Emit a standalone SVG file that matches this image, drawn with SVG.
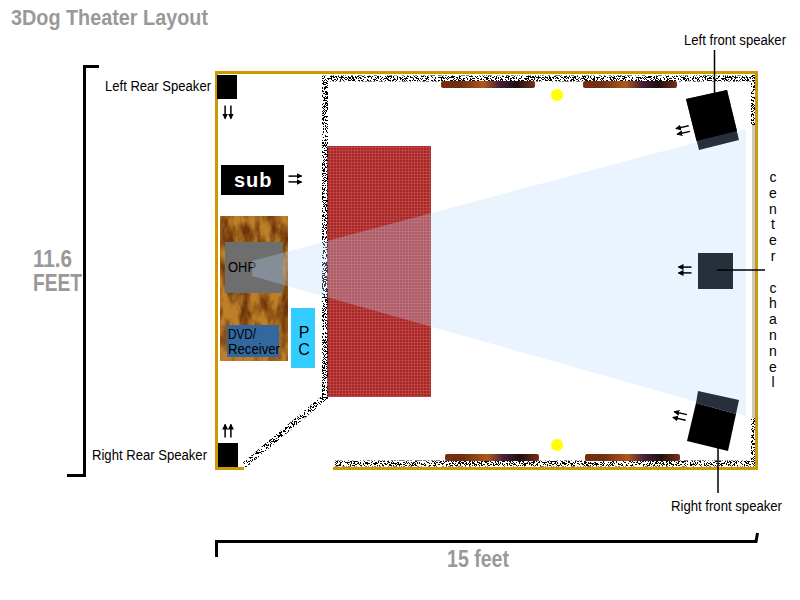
<svg xmlns="http://www.w3.org/2000/svg" width="800" height="600" viewBox="0 0 800 600">
<style>
text{font-family:"Liberation Sans",Arial,sans-serif;fill:#000}
.lbl{font-size:14px}
.big{font-weight:bold;fill:#999}
.wall{fill:none;stroke:#000;stroke-width:6}
.gold{fill:none;stroke:#cc9900;stroke-width:3}
.lead{stroke:#000;stroke-width:1.5;fill:none}
.brk{stroke:#000;stroke-width:3;fill:none}
.dark{fill:#25303a}
.blk{fill:#000}
.dot{fill:#ffff00}
.panel{fill:url(#panelGrad)}
.arr{stroke:#000;stroke-width:1.500;fill:none;marker-end:url(#head)}
</style>
<defs>
<filter id="speckle" x="-5%" y="-5%" width="110%" height="110%" color-interpolation-filters="sRGB">
<feTurbulence type="fractalNoise" baseFrequency="1.3" numOctaves="1" seed="7"/>
<feColorMatrix type="matrix" values="0 0 0 0 0 0 0 0 0 0 0 0 0 0 0 6 0 0 0 -2.680"/>
<feComponentTransfer><feFuncA type="discrete" tableValues="0 1"/></feComponentTransfer>
<feComposite in2="SourceGraphic" operator="in"/>
</filter>
<filter id="woodFx" x="0" y="0" width="100%" height="100%" color-interpolation-filters="sRGB">
<feTurbulence type="fractalNoise" baseFrequency="0.1 0.04" numOctaves="4" seed="11"/>
<feColorMatrix type="matrix" values="0 0 0 0 0.42 0 0 0 0 0.20 0 0 0 0 0.04 2.400 0 0 0 -0.850"/>
<feComposite in2="SourceGraphic" operator="in" result="g"/>
<feMerge><feMergeNode in="SourceGraphic"/><feMergeNode in="g"/></feMerge>
</filter>
<pattern id="redGrid" width="3" height="3" patternUnits="userSpaceOnUse">
<rect width="3" height="3" fill="#ab2424"/>
<path d="M0 .5H3M.5 0V3" stroke="#b94444" stroke-width="1"/>
</pattern>
<linearGradient id="panelGrad">
<stop offset="0" stop-color="#7a2c10"/>
<stop offset=".2" stop-color="#6e3010"/>
<stop offset=".45" stop-color="#b0581a"/>
<stop offset=".62" stop-color="#46203a"/>
<stop offset=".8" stop-color="#1e1010"/>
<stop offset="1" stop-color="#7a3018"/>
</linearGradient>
<marker id="head" viewBox="0 0 6 6" refX="5" refY="3" markerWidth="6" markerHeight="6" markerUnits="userSpaceOnUse" orient="auto">
<path d="M0 0L6 3L0 6Z" fill="#000"/>
</marker>
<g id="pair">
<path class="arr" d="M-6.500 -2.900H6.500"/>
<path class="arr" d="M-6.500 2.900H6.500"/>
</g>
</defs>
<rect width="800" height="600" fill="#fff"/>

<text id="title" class="big" x="11" y="25" font-size="22" textLength="197" lengthAdjust="spacingAndGlyphs">3Dog Theater Layout</text>

<g id="screen"><rect x="327" y="146" width="104" height="251" fill="url(#redGrid)"/></g>
<g id="rack">
<rect x="220" y="216" width="68" height="145" fill="#bd8028" filter="url(#woodFx)"/>
</g>
<g id="ohp">
<rect x="225" y="242" width="58" height="51" fill="#6e6e6e"/>
<text class="lbl" x="228" y="272" textLength="28" lengthAdjust="spacingAndGlyphs">OHP</text>
</g>
<g id="receiver">
<rect x="227" y="325" width="52" height="32" fill="#33689f"/>
<text class="lbl" x="228" y="339" textLength="28" lengthAdjust="spacingAndGlyphs">DVD/</text>
<text class="lbl" x="228" y="354" textLength="52" lengthAdjust="spacingAndGlyphs">Receiver</text>
</g>
<g id="pc">
<rect x="291" y="308" width="24" height="60" fill="#33ccff"/>
<text x="304" y="338" font-size="16" text-anchor="middle">P</text>
<text x="304" y="355" font-size="16" text-anchor="middle">C</text>
</g>
<g id="sub">
<rect x="221" y="165" width="63" height="30" class="blk"/>
<text x="234" y="187" font-size="20" font-weight="bold" style="fill:#fff;letter-spacing:1px">sub</text>
<use href="#pair" transform="translate(295 179)"/>
</g>

<g id="walls">
<rect x="752" y="125" width="3" height="293" fill="#c8c8c8"/>
<g filter="url(#speckle)">
<path class="wall" d="M755 78.500H325V397L244 465.500M335 463.500H755M754 75V125M754 418V466"/>
</g>
<path class="gold" d="M244 468.500H216.500V72.500H756.500V468.500H333"/>
</g>

<g id="cone"><path d="M252 261L746 129V416L252 276Z" fill="#b8daff" fill-opacity=".3"/></g>

<g id="panels">
<rect class="panel" x="441" y="81" width="94" height="7" rx="2"/>
<rect class="panel" x="583" y="81" width="94" height="7" rx="2"/>
<rect class="panel" x="445" y="454" width="94" height="7" rx="2"/>
<rect class="panel" x="585" y="454" width="95" height="7" rx="2"/>
<circle class="dot" cx="557" cy="95" r="6"/>
<circle class="dot" cx="557" cy="445" r="6"/>
</g>

<g id="left-rear-speaker">
<rect x="217" y="75" width="20" height="24" class="blk"/>
<use href="#pair" transform="translate(228 112) rotate(90)"/>
<text class="lbl" x="105" y="91" textLength="106" lengthAdjust="spacingAndGlyphs">Left Rear Speaker</text>
</g>
<g id="right-rear-speaker">
<rect x="218" y="443" width="20" height="24" class="blk"/>
<use href="#pair" transform="translate(228 431) rotate(-90)"/>
<text class="lbl" x="92" y="460" textLength="115" lengthAdjust="spacingAndGlyphs">Right Rear Speaker</text>
</g>
<g id="left-front-speaker">
<path class="dark" d="M686 99L727 90L739 140L699 150Z"/>
<path class="blk" d="M686 99L727 90L737 131L696.500 141Z"/>
<use href="#pair" transform="translate(683 130) rotate(167)"/>
<text class="lbl" x="684" y="45" textLength="102" lengthAdjust="spacingAndGlyphs">Left front speaker</text>
</g>
<g id="center-speaker">
<rect class="dark" x="698" y="253" width="35" height="36"/>
<use href="#pair" transform="translate(685 270) rotate(180)"/>
<text x="773" y="182" font-size="14" text-anchor="middle"><tspan x="773">c</tspan><tspan x="773" dy="15.800">e</tspan><tspan x="773" dy="15.800">n</tspan><tspan x="773" dy="15.800">t</tspan><tspan x="773" dy="15.800">e</tspan><tspan x="773" dy="15.800">r</tspan><tspan x="773" dy="31.600">c</tspan><tspan x="773" dy="15.800">h</tspan><tspan x="773" dy="15.800">a</tspan><tspan x="773" dy="15.800">n</tspan><tspan x="773" dy="15.800">n</tspan><tspan x="773" dy="15.800">e</tspan><tspan x="773" dy="15.800">l</tspan></text>
</g>
<g id="right-front-speaker">
<path class="dark" d="M698 391L739 400L736 414L696 403Z"/>
<path class="blk" d="M696 403L736 414L728 451L687 441Z"/>
<use href="#pair" transform="translate(680 416) rotate(193)"/>
<text class="lbl" x="671" y="511" textLength="111" lengthAdjust="spacingAndGlyphs">Right front speaker</text>
</g>

<g id="connectors">
<path class="lead" d="M714.500 50V93M718 448V493M717 270H765"/>
</g>

<g id="dimensions">
<path class="brk" d="M99 66.500H84.500V475.500H67"/>
<path class="brk" d="M216.500 557V541.500H756L757.500 533"/>
<text class="big" x="33" y="267" font-size="24" textLength="39" lengthAdjust="spacingAndGlyphs">11.6</text>
<text class="big" x="33" y="291" font-size="24" textLength="49" lengthAdjust="spacingAndGlyphs">FEET</text>
<text class="big" x="447" y="567" font-size="23" textLength="62" lengthAdjust="spacingAndGlyphs">15 feet</text>
</g>
</svg>
